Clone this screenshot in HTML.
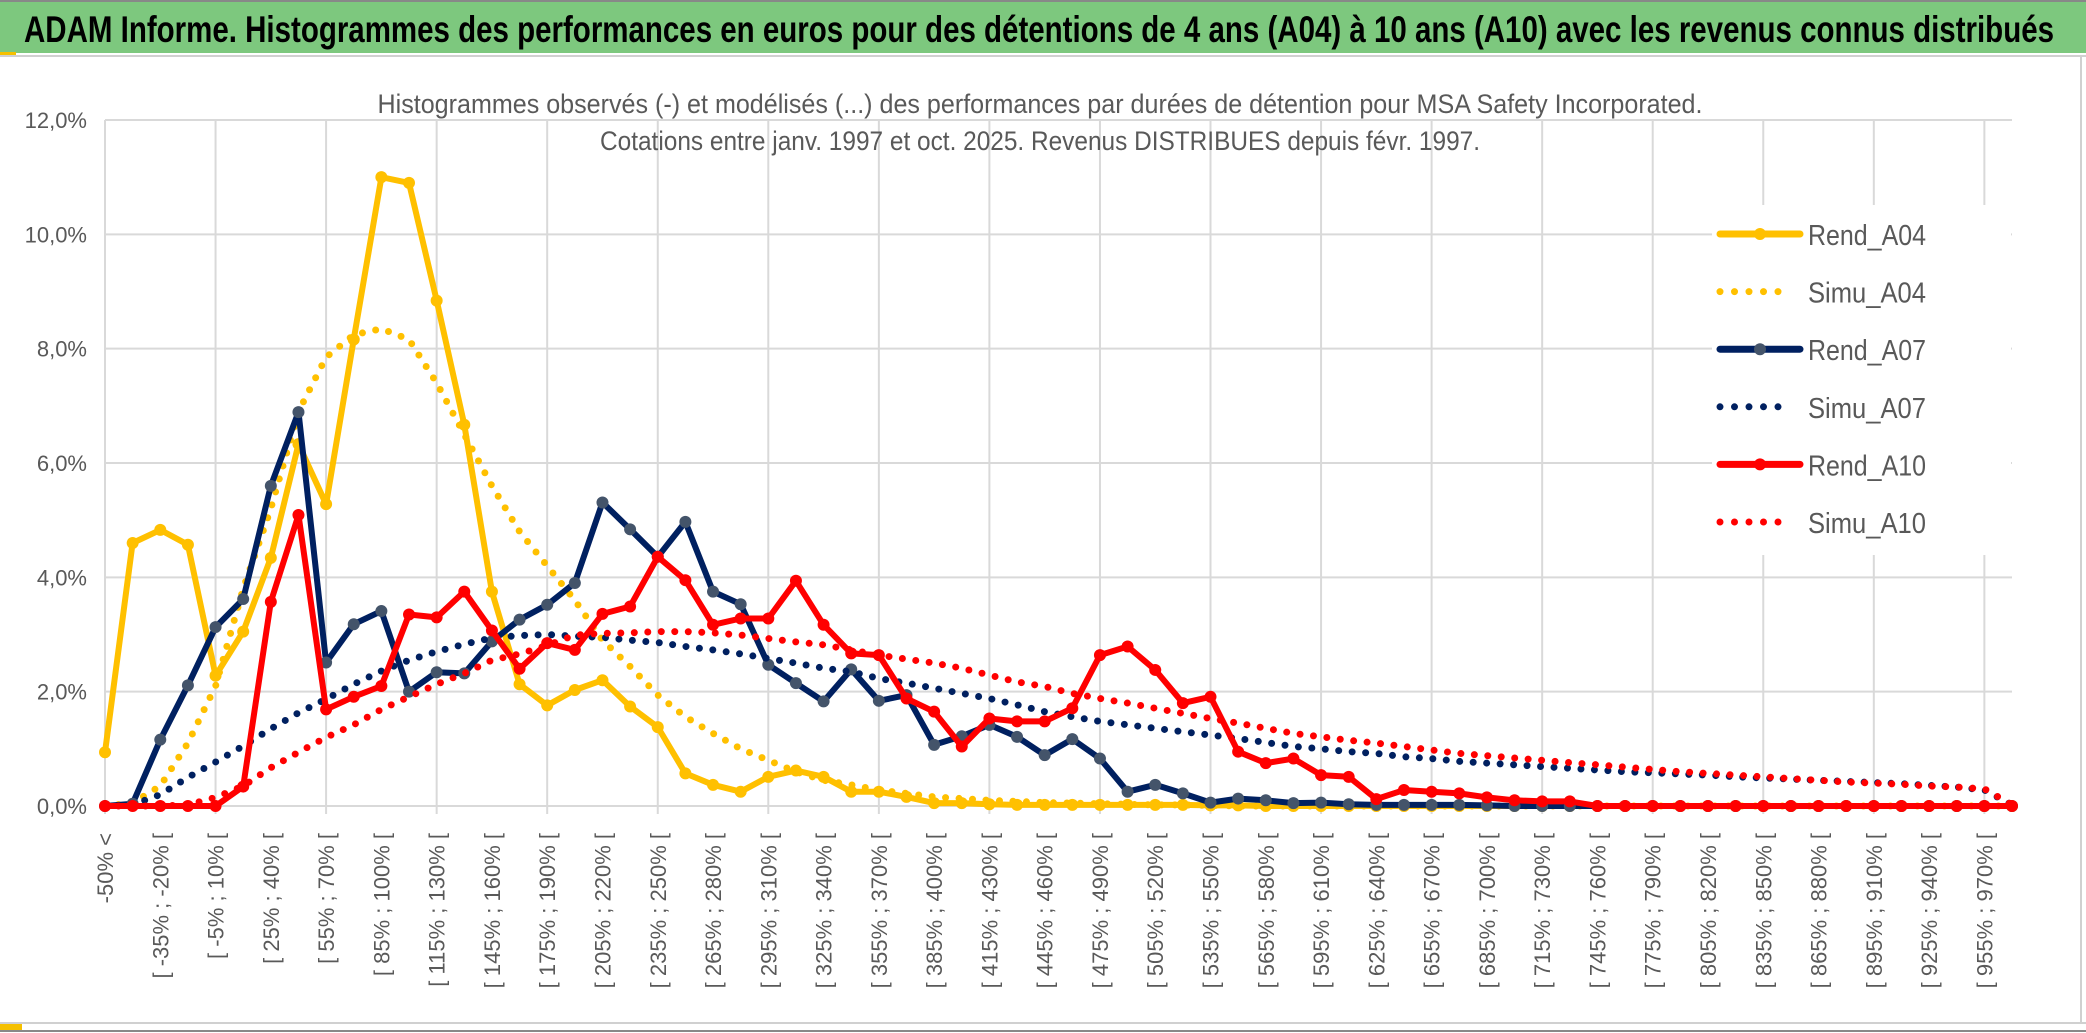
<!DOCTYPE html>
<html><head><meta charset="utf-8">
<style>
html,body{margin:0;padding:0;background:#fff;}
svg{display:block;}
text{font-family:"Liberation Sans",sans-serif;}
</style></head>
<body>
<svg id="chart" width="2086" height="1033" viewBox="0 0 2086 1033" xmlns="http://www.w3.org/2000/svg">
  <rect x="0" y="0" width="2086" height="1033" fill="#fff"/>
  <rect x="0" y="2" width="2086" height="51" fill="#7dc87e"/>
  <line x1="0" y1="1" x2="2086" y2="1" stroke="#888" stroke-width="2"/>
  <line x1="0" y1="56" x2="2086" y2="56" stroke="#d0d0d0" stroke-width="2"/>
  <rect x="0" y="52" width="16" height="3" fill="#f5c000"/>
  <text x="24" y="42" font-size="37" font-weight="bold" fill="#000" textLength="2030" lengthAdjust="spacingAndGlyphs">ADAM Informe. Histogrammes des performances en euros pour des détentions de 4 ans (A04) à 10 ans (A10) avec les revenus connus distribués</text>
  <line x1="2081" y1="57" x2="2081" y2="1022" stroke="#d0d0d0" stroke-width="2"/>
  <line x1="0" y1="1023" x2="2086" y2="1023" stroke="#d0d0d0" stroke-width="2"/>
  <line x1="0" y1="1031" x2="2086" y2="1031" stroke="#888" stroke-width="2"/>
  <rect x="0" y="1024" width="22" height="6" fill="#f5c000"/>
  <g id="grid"></g>
  <g id="yticks"></g>
  <g id="xticks"></g>
  <rect x="1712" y="205" width="299" height="350" fill="#fff"/>
  <g id="series"></g>
  <text x="1040" y="113" font-size="27" fill="#595959" text-anchor="middle" textLength="1325" lengthAdjust="spacingAndGlyphs">Histogrammes observés (-) et modélisés (...) des performances par durées de détention pour MSA Safety Incorporated.</text>
  <text x="1040" y="150" font-size="27" fill="#595959" text-anchor="middle" textLength="880" lengthAdjust="spacingAndGlyphs">Cotations entre janv. 1997 et oct. 2025. Revenus DISTRIBUES depuis févr. 1997.</text>
  <g id="legend"></g>
</svg>
<script>
const NS = "http://www.w3.org/2000/svg";
function pad(a){ while(a.length<70) a.push(0); return a; }
const yTicks = [0,2,4,6,8,10,12];
const yTickLabels = ["0,0%","2,0%","4,0%","6,0%","8,0%","10,0%","12,0%"];
const nCat = 70;
const categories = [];
for (let k=0;k<nCat;k++){ if(k===0) categories.push("-50% <"); else { const a=-50+15*(k-1); categories.push("[ "+a+"% ; "+(a+15)+"% ["); } }
const rendA04 = pad([0.94,4.6,4.83,4.57,2.28,3.05,4.34,6.33,5.28,8.16,11.0,10.9,8.84,6.67,3.75,2.13,1.76,2.03,2.2,1.74,1.38,0.57,0.37,0.25,0.51,0.62,0.51,0.25,0.25,0.16,0.05,0.05,0.03,0.02,0.02,0.02,0.02,0.02,0.02,0.02,0.01,0.01]);
const simuA04 = pad([0,0.05,0.35,1.1,2.1,3.8,5.2,6.9,7.85,8.24,8.35,8.16,7.4,6.5,5.6,4.8,4.2,3.6,2.9,2.44,1.94,1.56,1.27,1.0,0.8,0.6,0.45,0.37,0.28,0.22,0.16,0.13,0.1,0.08,0.06,0.05,0.04,0.03,0.02,0.02,0.01]);
const rendA07 = pad([0,0.04,1.16,2.11,3.13,3.62,5.6,6.89,2.51,3.18,3.41,2.0,2.34,2.32,2.88,3.26,3.52,3.9,5.31,4.84,4.36,4.97,3.75,3.53,2.47,2.15,1.83,2.39,1.84,1.94,1.07,1.22,1.42,1.21,0.89,1.17,0.83,0.25,0.37,0.22,0.06,0.13,0.1,0.05,0.06,0.03,0.02,0.02,0.02,0.02,0.01]);
const simuA07 = pad([0,0.02,0.2,0.5,0.77,1.05,1.35,1.63,1.87,2.13,2.36,2.55,2.7,2.83,2.94,2.98,3.0,2.97,2.95,2.9,2.86,2.79,2.73,2.66,2.58,2.5,2.41,2.35,2.23,2.15,2.06,1.97,1.88,1.77,1.65,1.56,1.48,1.42,1.36,1.3,1.24,1.18,1.11,1.04,1.0,0.95,0.92,0.86,0.83,0.78,0.75,0.72,0.69,0.66,0.63,0.6,0.58,0.56,0.54,0.51,0.49,0.47,0.45,0.43,0.41,0.39,0.36,0.33,0.28,0.02]);
const rendA10 = pad([0,0,0,0,0,0.34,3.57,5.09,1.69,1.91,2.1,3.35,3.3,3.75,3.07,2.4,2.85,2.73,3.36,3.49,4.36,3.95,3.17,3.28,3.28,3.94,3.17,2.67,2.64,1.88,1.65,1.04,1.53,1.48,1.48,1.71,2.64,2.79,2.38,1.8,1.91,0.95,0.75,0.83,0.54,0.51,0.12,0.28,0.25,0.22,0.15,0.1,0.08,0.08]);
const simuA10 = pad([0,0,0,0.02,0.15,0.35,0.67,0.94,1.2,1.42,1.69,1.91,2.13,2.32,2.55,2.66,2.81,2.99,3.02,3.03,3.05,3.05,3.03,2.99,2.93,2.87,2.82,2.73,2.64,2.57,2.5,2.41,2.29,2.17,2.09,1.97,1.88,1.8,1.71,1.62,1.53,1.45,1.36,1.27,1.21,1.15,1.1,1.04,0.98,0.92,0.88,0.84,0.8,0.76,0.72,0.68,0.64,0.6,0.57,0.54,0.51,0.48,0.45,0.42,0.4,0.38,0.35,0.33,0.3,0.02]);
const seriesNames = ["Rend_A04","Simu_A04","Rend_A07","Simu_A07","Rend_A10","Simu_A10"];

const X0=105, X1=2012, Y0=806, Y1=120, YMAX=12;
function xs(i){ return X0 + i*(X1-X0)/(nCat-1); }
function ys(v){ return Y0 - v/YMAX*(Y0-Y1); }
function mk(tag, attrs, parent){ const e=document.createElementNS(NS,tag); for(const k in attrs) e.setAttribute(k,attrs[k]); parent.appendChild(e); return e; }

const grid=document.getElementById('grid');
yTicks.forEach(t=>{
  const l=mk('line',{x1:X0,x2:X1,y1:ys(t),y2:ys(t),stroke:'#d9d9d9','stroke-width':2},grid);
  
  
});
for(let i=0;i<nCat;i+=4){
  const l=mk('line',{x1:xs(i),x2:xs(i),y1:Y1,y2:Y0+8,stroke:'#d9d9d9','stroke-width':2},grid);
  
  
}
const yt=document.getElementById('yticks');
yTicks.forEach((t,k)=>{
  const e=mk('text',{x:87,y:ys(t)+8,'font-size':22,fill:'#595959','text-anchor':'end'},yt);
  e.textContent=yTickLabels[k];
  
  
});
const xt=document.getElementById('xticks');
categories.forEach((c,i)=>{
  if(i%2) return;
  const x=xs(i)+8, y=833;
  const e=mk('text',{x:x,y:y,'font-size':22,fill:'#595959','text-anchor':'end',transform:'rotate(-90 '+x+' '+y+')'},xt);
  e.textContent=c;
  
  
});

const sg=document.getElementById('series');
function drawSolid(vals,color,markerFill,name){
  const g=mk('g',{},sg);
  
  
  const pts=vals.map((v,i)=>xs(i).toFixed(1)+','+ys(v).toFixed(1)).join(' ');
  mk('polyline',{points:pts,fill:'none',stroke:color,'stroke-width':6,'stroke-linejoin':'round','stroke-linecap':'round'},g);
  vals.forEach((v,i)=>{
    const c=mk('circle',{cx:xs(i),cy:ys(v),r:6,fill:markerFill},g);
    
    
  });
}
function drawDotted(vals,color,name){
  const pts=vals.map((v,i)=>xs(i).toFixed(1)+','+ys(v).toFixed(1)).join(' ');
  const p=mk('polyline',{points:pts,fill:'none',stroke:color,'stroke-width':7,'stroke-dasharray':'0 13.5','stroke-linecap':'round'},sg);
  
  
}
drawSolid(rendA04,'#ffc000','#ffc000','series-rend-a04');
drawDotted(simuA04,'#ffc000','series-simu-a04');
drawSolid(rendA07,'#002060','#44546a','series-rend-a07');
drawDotted(simuA07,'#002060','series-simu-a07');
drawSolid(rendA10,'#ff0000','#ff0000','series-rend-a10');
drawDotted(simuA10,'#ff0000','series-simu-a10');

const lg=document.getElementById('legend');
const legendStyles=[['#ffc000','#ffc000',false],['#ffc000',null,true],['#002060','#44546a',false],['#002060',null,true],['#ff0000','#ff0000',false],['#ff0000',null,true]];
seriesNames.forEach((n,k)=>{
  const y=234+k*57.6;
  const g=mk('g',{},lg);
  
  
  const s=legendStyles[k];
  if(s[2]){
    mk('line',{x1:1720,x2:1780,y1:y,y2:y,stroke:s[0],'stroke-width':7,'stroke-dasharray':'0 14.5','stroke-linecap':'round'},g);
  } else {
    mk('line',{x1:1720,x2:1800,y1:y,y2:y,stroke:s[0],'stroke-width':7,'stroke-linecap':'round'},g);
    mk('circle',{cx:1760,cy:y,r:6,fill:s[1]},g);
  }
  const t=mk('text',{x:1808,y:y+11,'font-size':29,fill:'#595959',textLength:118,lengthAdjust:'spacingAndGlyphs'},g);
  t.textContent=n;
});
</script>
</body></html>
